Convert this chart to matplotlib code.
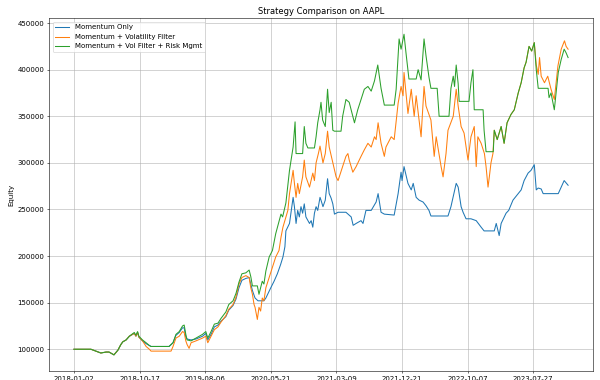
import numpy as np
import matplotlib
matplotlib.use('Agg')
import matplotlib.pyplot as plt

# trading-day index labels shown on the x axis (every 200 sessions)
tick_pos = [0, 200, 400, 600, 800, 1000, 1200, 1400]
tick_labels = ['2018-01-02', '2018-10-17', '2019-08-06', '2020-05-21',
               '2021-03-09', '2021-12-21', '2022-10-07', '2023-07-27']

# equity in thousands at (session index, value)
mom_idx = [0, 37, 52, 67, 82, 98, 107, 122, 134, 143, 149, 159, 169, 184, 189, 194, 198, 209, 220, 230,
           235, 290, 302, 311, 321, 331, 336, 341, 345, 357, 372, 392, 402, 408, 418, 428, 439, 448, 463, 472,
           485, 494, 503, 512, 524, 534, 539, 544, 552, 561, 579, 585, 600, 610, 620, 630, 637, 643, 646, 657,
           668, 672, 677, 682, 687, 692, 697, 702, 707, 718, 723, 728, 733, 738, 743, 750, 753, 759, 766, 773,
           778, 784, 789, 794, 805, 829, 845, 851, 860, 875, 881, 890, 906, 921, 927, 936, 946, 976, 988, 997,
           1000, 1006, 1018, 1028, 1034, 1043, 1052, 1064, 1073, 1082, 1088, 1140, 1149, 1165, 1171, 1180, 1186, 1195, 1210, 1226,
           1241, 1250, 1281, 1287, 1296, 1302, 1317, 1325, 1338, 1354, 1363, 1372, 1384, 1393, 1403, 1409, 1415, 1424, 1430, 1476,
           1485, 1494, 1506]
mom_val = [100, 100, 100, 98, 96, 97, 97, 94, 99, 105, 108, 110, 114, 117, 114, 118, 113, 109, 106, 104,
           103, 103, 107, 115, 118, 123, 123, 113, 111, 110, 111, 114, 117, 110, 116, 124, 126, 130, 135, 142,
           147, 154, 166, 174, 176, 177, 170, 163, 155, 152, 152, 155, 166, 173, 181, 191, 199, 210, 227, 235,
           263, 253, 235, 249, 242, 253, 246, 256, 242, 235, 238, 231, 246, 253, 249, 263, 260, 253, 260, 283,
           267, 262, 256, 245, 247, 247, 242, 233, 235, 238, 235, 249, 249, 258, 267, 247, 245, 244, 267, 290,
           281, 296, 278, 271, 278, 263, 260, 258, 254, 249, 243, 243, 253, 278, 274, 253, 247, 240, 240, 238,
           231, 227, 227, 235, 222, 235, 246, 249, 260, 267, 271, 281, 289, 292, 298, 271, 273, 272, 267, 267,
           274, 281, 276]

vol_idx = [0, 37, 52, 67, 82, 98, 107, 122, 134, 143, 149, 159, 169, 184, 189, 194, 198, 209, 220, 230,
           235, 296, 302, 311, 321, 331, 336, 341, 345, 351, 357, 372, 392, 402, 408, 418, 428, 439, 448, 463,
           472, 485, 494, 503, 512, 524, 534, 539, 544, 549, 552, 559, 564, 569, 574, 579, 585, 595, 605, 615,
           625, 631, 637, 652, 657, 668, 672, 677, 682, 687, 697, 702, 707, 718, 728, 733, 738, 745, 750, 759,
           766, 773, 778, 789, 799, 805, 819, 829, 835, 839, 850, 860, 875, 885, 896, 906, 916, 921, 927, 936,
           946, 951, 967, 976, 988, 997, 1003, 1006, 1018, 1028, 1037, 1043, 1058, 1067, 1073, 1088, 1098, 1104, 1119, 1125,
           1134, 1140, 1156, 1165, 1171, 1180, 1189, 1201, 1210, 1220, 1226, 1231, 1241, 1251, 1256, 1262, 1266, 1271, 1277, 1281,
           1290, 1302, 1311, 1320, 1332, 1342, 1354, 1363, 1372, 1378, 1387, 1395, 1403, 1409, 1415, 1419, 1424, 1434, 1444, 1454,
           1464, 1475, 1485, 1495, 1500, 1506]
vol_val = [100, 100, 100, 98, 96, 97, 97, 94, 99, 105, 108, 110, 114, 117, 114, 118, 113, 109, 103, 100,
           98, 98, 103, 112, 114, 119, 118, 109, 105, 101, 107, 109, 112, 114, 107, 114, 121, 124, 129, 136,
           143, 148, 156, 170, 177, 179, 177, 166, 159, 148, 145, 132, 145, 141, 155, 152, 166, 177, 188, 199,
           206, 220, 231, 249, 267, 292, 278, 263, 278, 267, 285, 303, 285, 274, 289, 281, 300, 310, 318, 300,
           310, 334, 317, 300, 285, 281, 296, 307, 310, 303, 290, 296, 307, 314, 321, 317, 328, 325, 343, 321,
           307, 317, 328, 325, 364, 382, 372, 397, 353, 379, 350, 372, 328, 382, 361, 346, 307, 328, 296, 285,
           310, 335, 350, 379, 361, 339, 332, 303, 328, 339, 296, 328, 321, 310, 296, 274, 285, 300, 310, 335,
           325, 339, 321, 343, 352, 357, 375, 386, 402, 408, 425, 420, 429, 405, 395, 413, 393, 386, 393, 379,
           368, 404, 422, 431, 425, 422]

risk_idx = [0, 37, 52, 67, 82, 98, 107, 122, 134, 143, 149, 159, 169, 184, 189, 194, 198, 209, 220, 230,
            235, 290, 302, 311, 321, 331, 336, 341, 345, 357, 372, 392, 402, 408, 418, 428, 439, 448, 463, 472,
            485, 494, 503, 512, 524, 534, 539, 544, 559, 564, 569, 574, 579, 585, 595, 605, 615, 631, 636, 646,
            657, 668, 674, 677, 697, 702, 707, 713, 733, 738, 743, 750, 753, 758, 766, 773, 778, 784, 789, 794,
            814, 819, 829, 839, 850, 855, 865, 875, 885, 896, 906, 916, 926, 936, 946, 976, 982, 991, 997, 1006,
            1012, 1018, 1021, 1043, 1049, 1058, 1067, 1073, 1082, 1088, 1107, 1113, 1143, 1149, 1156, 1160, 1165, 1171, 1174, 1204,
            1210, 1216, 1220, 1247, 1250, 1256, 1278, 1281, 1290, 1302, 1311, 1320, 1332, 1342, 1354, 1363, 1372, 1378, 1387, 1395,
            1403, 1409, 1415, 1445, 1448, 1454, 1464, 1476, 1485, 1494, 1500, 1506]
risk_val = [100, 100, 100, 98, 96, 97, 97, 94, 99, 105, 108, 110, 114, 118, 115, 119, 114, 110, 107, 104,
            103, 103, 107, 116, 119, 125, 126, 116, 110, 109, 112, 116, 119, 112, 119, 127, 128, 133, 140, 148,
            152, 160, 172, 181, 182, 185, 178, 168, 168, 159, 166, 173, 170, 184, 199, 206, 224, 245, 242, 257,
            292, 317, 344, 310, 310, 339, 321, 316, 316, 328, 343, 357, 365, 346, 339, 379, 354, 365, 335, 334,
            334, 350, 368, 365, 350, 343, 357, 368, 379, 382, 377, 388, 405, 380, 362, 362, 379, 433, 422, 438,
            418, 400, 390, 390, 400, 389, 433, 415, 392, 380, 380, 350, 350, 380, 393, 382, 405, 385, 366, 366,
            386, 400, 357, 357, 335, 312, 312, 335, 325, 339, 321, 343, 352, 357, 375, 386, 402, 408, 425, 420,
            429, 400, 380, 380, 370, 375, 357, 397, 411, 422, 418, 413]

plt.figure(figsize=(12, 7.6), dpi=50)
plt.plot(mom_idx, np.array(mom_val) * 1000, label='Momentum Only')
plt.plot(vol_idx, np.array(vol_val) * 1000, label='Momentum + Volatility Filter')
plt.plot(risk_idx, np.array(risk_val) * 1000, label='Momentum + Vol Filter + Risk Mgmt')

plt.xticks(tick_pos, tick_labels)
plt.title('Strategy Comparison on AAPL')
plt.ylabel('Equity')
plt.legend(loc='upper left')
plt.grid(True)
plt.subplots_adjust(left=0.082, right=0.988, top=0.952, bottom=0.024)
plt.savefig('out.png', dpi=50)
